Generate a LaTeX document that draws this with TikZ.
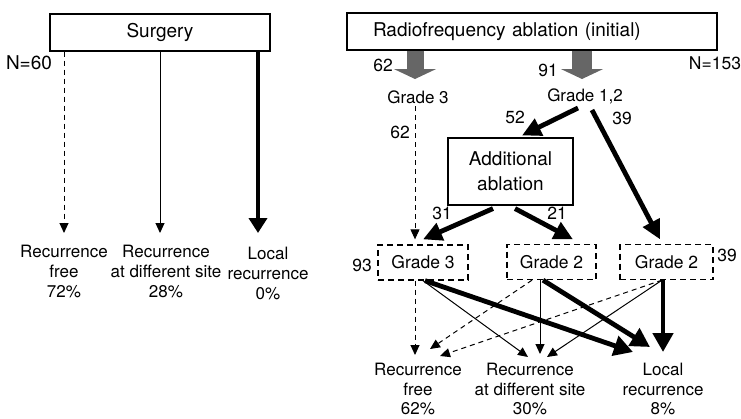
\documentclass[tikz,border=0pt]{standalone}
\usepackage{fontspec}
\setmainfont{TeX Gyre Heros}
\usetikzlibrary{arrows.meta,calc}

\tikzset{
  mainbox/.style={draw, line width=1.1pt, inner sep=0pt, font=\fontsize{19}{24}\selectfont},
  gradebox/.style={draw, line width=1.3pt, dash pattern=on 6pt off 4pt, inner sep=0pt,
                   minimum height=35pt, font=\fontsize{17.5}{20}\selectfont},
  lbl/.style={inner sep=0pt, align=center, font=\fontsize{17}{20}\selectfont},
  num/.style={inner sep=0pt, font=\fontsize{17.5}{20}\selectfont},
  thinarr/.style={line width=1pt, -{Triangle[width=9pt,length=10pt]}},
  dasharr/.style={thinarr, dash pattern=on 5pt off 4pt},
  thickarr/.style={line width=4.8pt, -{Triangle[width=20pt,length=19pt]}},
  midarr/.style={line width=4.8pt, -{Triangle[width=18pt,length=19pt]}},
  greyarr/.style={color=black!60, -{Triangle[width=42pt,length=10pt]}},
}

\begin{document}
\begin{tikzpicture}[x=1pt, y=-1pt]
\useasboundingbox (0,0) rectangle (741,418);

% ---------- surgery branch ----------
\node[mainbox, minimum width=220pt, minimum height=37pt] (surg) at (160,32.5) {Surgery};
\node[num, font=\fontsize{19}{20}\selectfont] (n60) at (29,63) {N=60};

\node[lbl] (lrf) at (64,271) {Recurrence\\free\\72\%};
\node[lbl] (lrd) at (166,271) {Recurrence\\at different site\\28\%};
\node[lbl] (llr) at (268,273) {Local\\recurrence\\0\%};

\draw[dasharr] ($(surg.south)+(-96,0)$) -- ($(lrf)+(0,-38)$);
\draw[thinarr] (surg.south) -- ($(lrd)+(-6,-38)$);
\draw[line width=4.2pt, -{Triangle[width=18pt,length=15pt]}] ($(surg.south)+(98,0)$) -- ($(llr)+(-10,-40)$);

% ---------- radiofrequency ablation branch ----------
\node[mainbox, minimum width=370pt, minimum height=37pt, text width=318pt,
      inner xsep=26pt, align=left] (rfa) at (532,31.5) {Radiofrequency ablation (initial)};
\node[num] (n153) at (715,63) {N=153};

\node[lbl] (g3t) at (418,97) {Grade 3};
\node[lbl] (g12) at (585,96) {Grade 1,2};

\draw[greyarr, line width=17pt] ($(rfa.south)+(-117,0)$) -- ($(g3t)+(-3,-18)$);
\draw[greyarr, line width=20pt] ($(rfa.south)+(50,0)$) -- ($(g12)+(-3,-17)$);
\node[num] (c62a) at (383,65) {62};
\node[num] (c91) at (548,70) {91};

\node[mainbox, minimum width=125pt, minimum height=67pt, align=center,
      font=\fontsize{19}{25}\selectfont] (addl) at (510.5,171.5) {Additional\\ablation};

\node[gradebox, minimum width=90pt] (b3) at (423,262.5) {Grade 3};
\node[gradebox, minimum width=89pt] (b2m) at (551.5,262) {Grade 2};
\node[gradebox, minimum width=93pt] (b2r) at (666.5,262) {Grade 2};

\draw[dasharr] ($(g3t)+(-3,9)$) -- ($(b3.north)+(-8,-5)$);
\draw[midarr] ($(g12)+(-7,12)$) -- ($(addl.north)+(11.5,-2)$);
\draw[midarr] ($(g12)+(7,14)$) -- ($(b2r.north)+(-6.5,-4.5)$);
\draw[midarr] ($(addl.south)+(-17.5,3)$) -- ($(b3.north)+(0,-5)$);
\draw[midarr] ($(addl.south)+(4.5,3)$) -- ($(b2m.north)+(21.5,-4.5)$);

\node[num] (c62b) at (400,132) {62};
\node[num] (c52) at (515,117) {52};
\node[num] (c39a) at (622,118) {39};
\node[num] (c31) at (442,213) {31};
\node[num] (c21) at (557,213) {21};
\node[num] (c93) at (362,265) {93};
\node[num] (c39b) at (727,255) {39};

% ---------- outcomes ----------
\node[lbl, font=\fontsize{17}{19.5}\selectfont] (rf) at (418,389) {Recurrence\\free\\62\%};
\node[lbl, font=\fontsize{17}{19.5}\selectfont] (rd) at (530,389) {Recurrence\\at different site\\30\%};
\node[lbl, font=\fontsize{17}{19.5}\selectfont] (lr) at (663,389) {Local\\recurrence\\8\%};

% from grade 3
\draw[dasharr] ($(b3.south)+(-8,0)$) -- ($(rf)+(-3,-34)$);
\draw[thinarr] (b3.south) -- ($(rd)+(-2,-32)$);
\draw[thickarr] ($(b3.south)+(2,0)$) -- ($(lr)+(-30,-37)$);
% from grade 2 (after additional ablation)
\draw[dasharr] ($(b2m.south)+(-19.5,0)$) -- ($(rf)+(12,-40)$);
\draw[thinarr] ($(b2m.south)+(-11.5,0)$) -- ($(rd)+(10,-35)$);
\draw[thickarr] ($(b2m.south)+(-8.5,0)$) -- ($(lr)+(-13,-42)$);
% from grade 2 (initial ablation)
\draw[dasharr] ($(b2r.south)+(-4.5,0)$) -- ($(rf)+(22,-33)$);
\draw[thinarr] ($(b2r.south)+(-4.5,0)$) -- ($(rd)+(17,-32)$);
\draw[thickarr] ($(b2r.south)+(-3.5,0)$) -- ($(lr)+(0,-37)$);
\end{tikzpicture}
\end{document}
